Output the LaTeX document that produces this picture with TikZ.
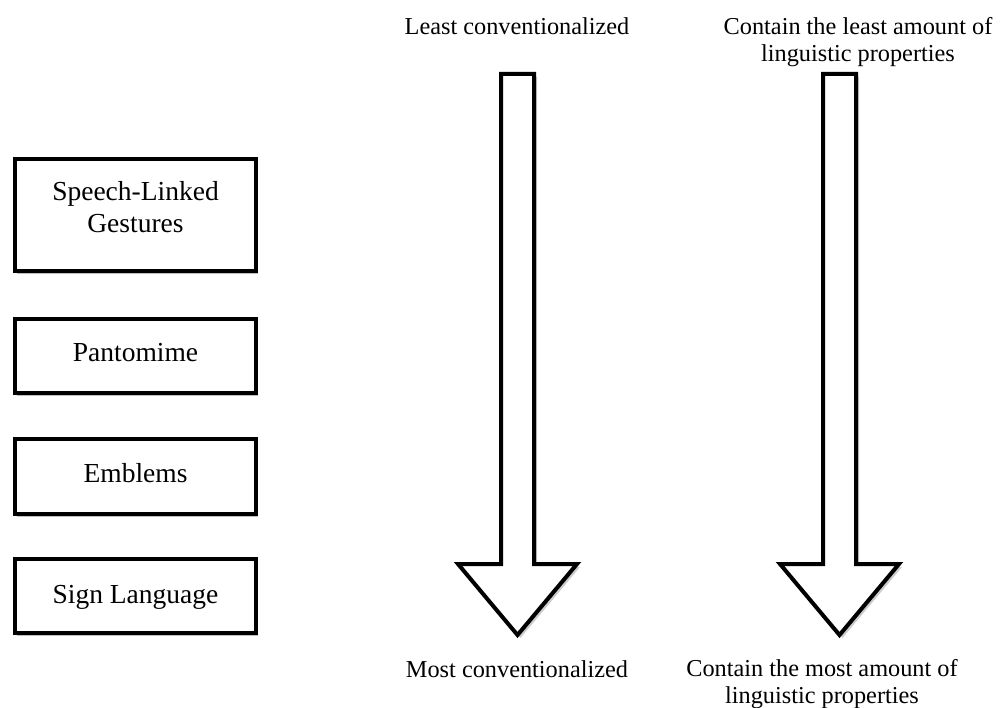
\documentclass[tikz,border=0pt]{standalone}
\usepackage{fontspec}
\setmainfont{Liberation Serif}
\usetikzlibrary{shadows}
\begin{document}
\begin{tikzpicture}[x=1pt,y=-1pt,
  catbox/.style={draw=black,line width=4pt,fill=white,minimum width=241pt,inner sep=0pt,
     drop shadow={shadow xshift=2pt,shadow yshift=-3pt,opacity=0.25,fill=black}},
  boxtext/.style={align=center,inner sep=0pt,font=\fontsize{27.5}{32}\selectfont},
  bigarrow/.style={draw=black,line width=4pt,fill=white,line join=miter,
     drop shadow={shadow xshift=3pt,shadow yshift=-3pt,opacity=0.2,fill=black}},
  lbl/.style={align=center,inner sep=0pt,font=\fontsize{24.3}{27.5}\selectfont}]
\useasboundingbox[fill=white] (0,0) rectangle (1002,708);
% category boxes
\node[catbox,minimum height=112pt] (slg) at (135.5,215) {};
\node[catbox,minimum height=74pt] (pan) at (135.5,356) {};
\node[catbox,minimum height=75pt] (emb) at (135.5,476.5) {};
\node[catbox,minimum height=74pt] (sign) at (135.5,596) {};
\node[boxtext] (slgt) at ([yshift=8pt]slg.center) {Speech-Linked\\Gestures};
\node[boxtext] (pant) at ([yshift=3pt]pan.center) {Pantomime};
\node[boxtext] (embt) at ([yshift=3pt]emb.center) {Emblems};
\node[boxtext] (signt) at ([yshift=-1pt]sign.center) {Sign Language};
% arrows
\path[bigarrow] (501,74) -- (534,74) -- (534,564) -- (577,564) -- (517.5,635) -- (458,564) -- (501,564) -- cycle;
\path[bigarrow] (823,74) -- (856,74) -- (856,564) -- (899,564) -- (839.5,635) -- (780,564) -- (823,564) -- cycle;
% labels
\node[lbl] (lc) at (517,26) {Least conventionalized};
\node[lbl] (ll) at (858,42) {Contain the least amount of\\linguistic properties};
\node[lbl] (mc) at (517,669) {Most conventionalized};
\node[lbl] (ml) at (822,684) {Contain the most amount of\\linguistic properties};
\end{tikzpicture}
\end{document}
